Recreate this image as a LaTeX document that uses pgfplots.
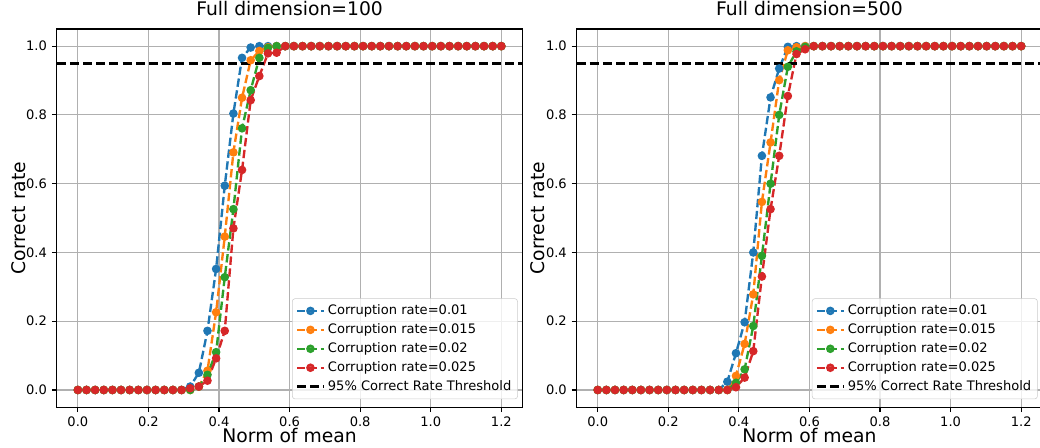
\documentclass[border=0pt]{standalone}
\usepackage{pgfplots}
\pgfplotsset{compat=1.18}
\usepackage{pgfplotstable}
\usepackage{fontspec}
\setmainfont{DejaVu Sans}

\definecolor{tabblue}{HTML}{1F77B4}
\definecolor{taborange}{HTML}{FF7F0E}
\definecolor{tabgreen}{HTML}{2CA02C}
\definecolor{tabred}{HTML}{D62728}
\definecolor{gridgray}{HTML}{B0B0B0}
\definecolor{legframe}{HTML}{CCCCCC}

% columns: corruption rate 0.01, 0.015, 0.02, 0.025
\pgfplotstableread{
x      a     b     c     d
0      0     0     0     0
0.0245 0     0     0     0
0.0490 0     0     0     0
0.0735 0     0     0     0
0.0980 0     0     0     0
0.1224 0     0     0     0
0.1469 0     0     0     0
0.1714 0     0     0     0
0.1959 0     0     0     0
0.2204 0     0     0     0
0.2449 0     0     0     0
0.2694 0     0     0     0
0.2939 0     0     0     0
0.3184 0.010 0     0     0.005
0.3429 0.050 0.010 0.010 0.010
0.3673 0.172 0.056 0.044 0.027
0.3918 0.352 0.226 0.110 0.092
0.4163 0.594 0.446 0.328 0.172
0.4408 0.804 0.691 0.526 0.470
0.4653 0.966 0.850 0.761 0.640
0.4898 0.996 0.959 0.872 0.843
0.5143 1     0.986 0.966 0.913
0.5388 1     0.997 0.995 0.979
0.5633 1     1     1     0.981
0.5878 1     1     1     1
0.6122 1     1     1     1
0.6367 1     1     1     1
0.6612 1     1     1     1
0.6857 1     1     1     1
0.7102 1     1     1     1
0.7347 1     1     1     1
0.7592 1     1     1     1
0.7837 1     1     1     1
0.8082 1     1     1     1
0.8327 1     1     1     1
0.8571 1     1     1     1
0.8816 1     1     1     1
0.9061 1     1     1     1
0.9306 1     1     1     1
0.9551 1     1     1     1
0.9796 1     1     1     1
1.0041 1     1     1     1
1.0286 1     1     1     1
1.0531 1     1     1     1
1.0776 1     1     1     1
1.1020 1     1     1     1
1.1265 1     1     1     1
1.1510 1     1     1     1
1.1755 1     1     1     1
1.2    1     1     1     1
}\dimhundred

\pgfplotstableread{
x      a     b     c     d
0      0     0     0     0
0.0245 0     0     0     0
0.0490 0     0     0     0
0.0735 0     0     0     0
0.0980 0     0     0     0
0.1224 0     0     0     0
0.1469 0     0     0     0
0.1714 0     0     0     0
0.1959 0     0     0     0
0.2204 0     0     0     0
0.2449 0     0     0     0
0.2694 0     0     0     0
0.2939 0     0     0     0
0.3184 0     0     0     0
0.3429 0     0     0     0
0.3673 0.024 0     0     0
0.3918 0.107 0.041 0.021 0.008
0.4163 0.197 0.134 0.060 0.036
0.4408 0.400 0.278 0.186 0.113
0.4653 0.681 0.547 0.390 0.330
0.4898 0.851 0.720 0.600 0.526
0.5143 0.935 0.901 0.800 0.681
0.5388 0.998 0.988 0.940 0.855
0.5633 1     0.997 0.985 0.977
0.5878 1     1     0.998 0.991
0.6122 1     1     1     1
0.6367 1     1     1     1
0.6612 1     1     1     1
0.6857 1     1     1     1
0.7102 1     1     1     1
0.7347 1     1     1     1
0.7592 1     1     1     1
0.7837 1     1     1     1
0.8082 1     1     1     1
0.8327 1     1     1     1
0.8571 1     1     1     1
0.8816 1     1     1     1
0.9061 1     1     1     1
0.9306 1     1     1     1
0.9551 1     1     1     1
0.9796 1     1     1     1
1.0041 1     1     1     1
1.0286 1     1     1     1
1.0531 1     1     1     1
1.0776 1     1     1     1
1.1020 1     1     1     1
1.1265 1     1     1     1
1.1510 1     1     1     1
1.1755 1     1     1     1
1.2    1     1     1     1
}\dimfivehundred

\pgfplotsset{
  rateaxis/.style={
    scale only axis, width=335.4pt, height=272.3pt,
    anchor=south west,
    xmin=-0.06, xmax=1.26, ymin=-0.05, ymax=1.05,
    xtick={0,0.2,0.4,0.6,0.8,1.0,1.2},
    ytick={0,0.2,0.4,0.6,0.8,1.0},
    /pgf/number format/.cd, fixed, fixed zerofill, precision=1, assume math mode=true,
    /pgfplots/.cd,
    tick label style={font=\fontsize{9.4}{10}\selectfont},
    xticklabel style={inner sep=1pt, yshift=-2.3pt},
    xlabel style={font=\fontsize{13.5}{15}\selectfont, inner sep=0pt,
      at={([yshift=-25.5pt]axis description cs:0.5,0)}, anchor=base},
    ylabel style={font=\fontsize{13.5}{15}\selectfont,
      at={([xshift=-22.8pt]axis description cs:0,0.5)}, anchor=base},
    title style={font=\fontsize{13.5}{15}\selectfont,
      at={([yshift=3.4pt]axis description cs:0.5,1)}, anchor=base},
    xlabel={Norm of mean}, ylabel={Correct rate},
    grid=major, major grid style={gridgray, line width=0.8pt},
    axis line style={black, line width=0.8pt},
    tick align=outside, tick pos=left,
    major tick length=3.5pt, tick style={black, line width=0.8pt},
    legend cell align=left,
    legend image code/.code={%
      \draw[mark repeat=2, mark phase=2, #1]
        plot coordinates {(0cm,0cm) (0.34cm,0cm) (0.68cm,0cm)};},
    legend style={at={(0.99,0.021)}, anchor=south east,
      font=\fontsize{9.4}{10}\selectfont, draw=legframe, rounded corners=2pt,
      fill=white, fill opacity=0.8, text opacity=1, row sep=1.0pt, inner sep=2.5pt},
  },
  rate/.style={#1, line width=1.7pt, dash pattern=on 6pt off 2.6pt,
    mark=*, mark size=2.2pt, mark options={solid}},
  thresh/.style={black, line width=1.8pt, dash pattern=on 6.5pt off 3pt},
}

\begin{document}
\begin{tikzpicture}
\path[use as bounding box] (0,0) rectangle (748.8pt,322.56pt);

\begin{axis}[rateaxis, at={(40.8pt,29.4pt)}, title={Full dimension=100}]
\addplot[rate=tabblue] table[x=x, y=a] {\dimhundred};
\addplot[rate=taborange] table[x=x, y=b] {\dimhundred};
\addplot[rate=tabgreen] table[x=x, y=c] {\dimhundred};
\addplot[rate=tabred] table[x=x, y=d] {\dimhundred};
\addplot[thresh] coordinates {(-0.06,0.95) (1.26,0.95)};
\legend{Corruption rate=0.01, Corruption rate=0.015, Corruption rate=0.02, Corruption rate=0.025, 95\% Correct Rate Threshold}
\end{axis}

\begin{axis}[rateaxis, at={(415.1pt,29.4pt)}, title={Full dimension=500}]
\addplot[rate=tabblue] table[x=x, y=a] {\dimfivehundred};
\addplot[rate=taborange] table[x=x, y=b] {\dimfivehundred};
\addplot[rate=tabgreen] table[x=x, y=c] {\dimfivehundred};
\addplot[rate=tabred] table[x=x, y=d] {\dimfivehundred};
\addplot[thresh] coordinates {(-0.06,0.95) (1.26,0.95)};
\legend{Corruption rate=0.01, Corruption rate=0.015, Corruption rate=0.02, Corruption rate=0.025, 95\% Correct Rate Threshold}
\end{axis}
\end{tikzpicture}
\end{document}
